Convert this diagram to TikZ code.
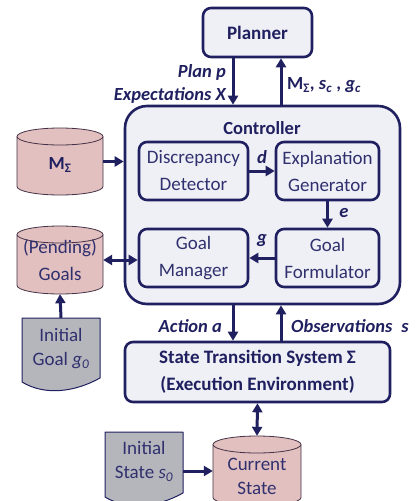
\documentclass[tikz,border=0pt]{standalone}
\usepackage{fontspec}
\setmainfont{Carlito}
\usetikzlibrary{arrows.meta}
\definecolor{navy}{RGB}{32,32,96}
\definecolor{boxfill}{RGB}{238,240,246}
\definecolor{drumfill}{RGB}{226,192,192}
\definecolor{drumline}{RGB}{70,50,70}
\definecolor{docfill}{RGB}{180,182,188}
\definecolor{txt}{RGB}{48,48,110}
% cylinder: name, x1, y1, x2, y2
\newcommand{\drum}[5]{%
	\pgfmathsetmacro{\rx}{(#4-#2)/2}
	\pgfmathsetmacro{\cx}{(#4+#2)/2}
	\pgfmathsetmacro{\cy}{(#5+#3)/2}
	\pgfmathsetmacro{\hh}{#5-#3}
	\filldraw[drum] (#2,#3+8.5) -- (#2,#5-8.5) arc[start angle=180,end angle=360,x radius=\rx pt,y radius=8.5pt] -- (#4,#3+8.5) arc[start angle=0,end angle=180,x radius=\rx pt,y radius=8.5pt] -- cycle;
	\draw[drum] (#2,#3+8.5) arc[start angle=180,end angle=360,x radius=\rx pt,y radius=8.5pt];
	\node[inner sep=0, minimum width=2*\rx pt, minimum height=\hh pt] (#1) at (\cx,\cy) {};
}
% document sheet: name, x1, y1, x2, y2
\newcommand{\sheet}[5]{%
	\pgfmathsetmacro{\cx}{(#4+#2)/2}
	\pgfmathsetmacro{\cy}{(#5+#3)/2}
	\filldraw[doc] (#2,#3) -- (#4,#3) -- (#4,#5-12) .. controls (#4-25,#5+2) and (#2+23,#5+6) .. (#2,#5-8) -- cycle;
	\node[inner sep=0, minimum width={(#4-#2)*1pt}, minimum height={(#5-#3)*1pt}] (#1) at (\cx,\cy) {};
}
\begin{document}
\begin{tikzpicture}[x=1pt, y=-1pt, line join=round,
	box/.style={draw=navy, line width=2.6pt, fill=boxfill, rounded corners=8pt, inner sep=0, text=txt, align=center, font=\fontsize{19}{27}\selectfont},
	lbl/.style={text=navy, inner sep=0, font=\fontsize{18.5}{24}\selectfont\bfseries},
	word/.style={text=txt, inner sep=0, align=center, font=\fontsize{19}{24}\selectfont},
	arr/.style={navy, line width=3pt, -{Triangle[length=9pt,width=10pt]}},
	arrr/.style={navy, line width=3pt, {Triangle[length=9pt,width=10pt]}-{Triangle[length=9pt,width=10pt]}},
	drum/.style={draw=drumline, line width=0.8pt, fill=drumfill},
	doc/.style={draw=navy, line width=1pt, fill=docfill}]
	\useasboundingbox (0,0) rectangle (418,501);
	\coordinate (xp) at (233,0);
	\coordinate (xm) at (281,0);
	% boxes
	\node[box, minimum width=109pt, minimum height=49pt] (planner) at (257.5,32.5) {\bfseries\color{navy}Planner};
	\node[box, rounded corners=22pt, minimum width=275pt, minimum height=198pt] (ctrl) at (262.5,205) {};
	\node[lbl] (ctrllbl) at (262,128) {Controller};
	\node[box, minimum width=109pt, minimum height=58pt] (dd) at (193.5,171) {Discrepancy\\Detector};
	\node[box, minimum width=103pt, minimum height=58pt] (eg) at (327.5,171) {Explanation\\Generator};
	\node[box, minimum width=109pt, minimum height=58pt] (gm) at (193.5,258) {Goal\\Manager};
	\node[box, minimum width=103pt, minimum height=58pt] (gf) at (327.5,258) {Goal\\Formulator};
	\node[box, minimum width=265pt, minimum height=60pt] (sts) at (257.5,372) {\bfseries\color{navy}State Transition System Σ\\\bfseries\color{navy}(Execution Environment)};
	% stores and sheets
	\drum{mdrum}{17}{128}{103}{195}
	\drum{pgoals}{17}{226}{103}{294}
	\drum{cur}{213}{436}{301}{506}
	\sheet{igoal}{22}{318}{100}{390}
	\sheet{istate}{105}{432}{183}{505}
	\node[lbl] (mtext) at (60,165) {M\textsubscript{Σ}};
	\node[word, font=\fontsize{19}{27}\selectfont] (ptext) at (60,260.5) {(Pending)\\Goals};
	\node[word] (ctext) at (257,476) {Current\\State};
	\node[word] (gtext) at (61,348.5) {Initial\\Goal \textit{g}\textsubscript{\textit{0}}};
	\node[word] (stext) at (144,461.5) {Initial\\State \textit{s}\textsubscript{\textit{0}}};
	% connectors
	\draw[arr] (planner.south -| xp) -- (ctrl.north -| xp);
	\draw[arr] (ctrl.north -| xm) -- (planner.south -| xm);
	\draw[arr] (ctrl.south -| xp) -- (sts.north -| xp);
	\draw[arr] (sts.north -| xm) -- (ctrl.south -| xm);
	\draw[arr] (dd.east) -- (eg.west);
	\draw[arr] (eg.south) -- (gf.north);
	\draw[arr] (gf.west) -- (gm.east);
	\draw[arr] (mdrum.east) -- (mdrum.east -| ctrl.west);
	\draw[arrr] (pgoals.east) -- (pgoals.east -| gm.west);
	\draw[arr] (igoal.north) -- (pgoals.south);
	\draw[arrr] (sts.south) -- (cur.north);
	\draw[arr] (istate.east |- cur.west) -- (cur.west);
	% labels
	\node[lbl, anchor=east] (planlbl) at (226,72) {\itshape Plan p};
	\node[lbl, anchor=east] (explbl) at (226,95) {\itshape Expectations X};
	\node[lbl, anchor=west] (modlbl) at (287,85) {M\textsubscript{Σ}, \textit{s}\textsubscript{\textit{c}} , \textit{g}\textsubscript{\textit{c}}};
	\node[lbl] (dlbl) at (262,157) {\itshape d};
	\node[lbl] (elbl) at (344,213) {\itshape e};
	\node[lbl] (glbl) at (262,241) {\itshape g};
	\node[lbl, anchor=east] (actlbl) at (222,326) {\itshape Action a};
	\node[lbl, anchor=west] (obslbl) at (291,326) {\itshape Observations\hspace{9pt}s};
\end{tikzpicture}
\end{document}
